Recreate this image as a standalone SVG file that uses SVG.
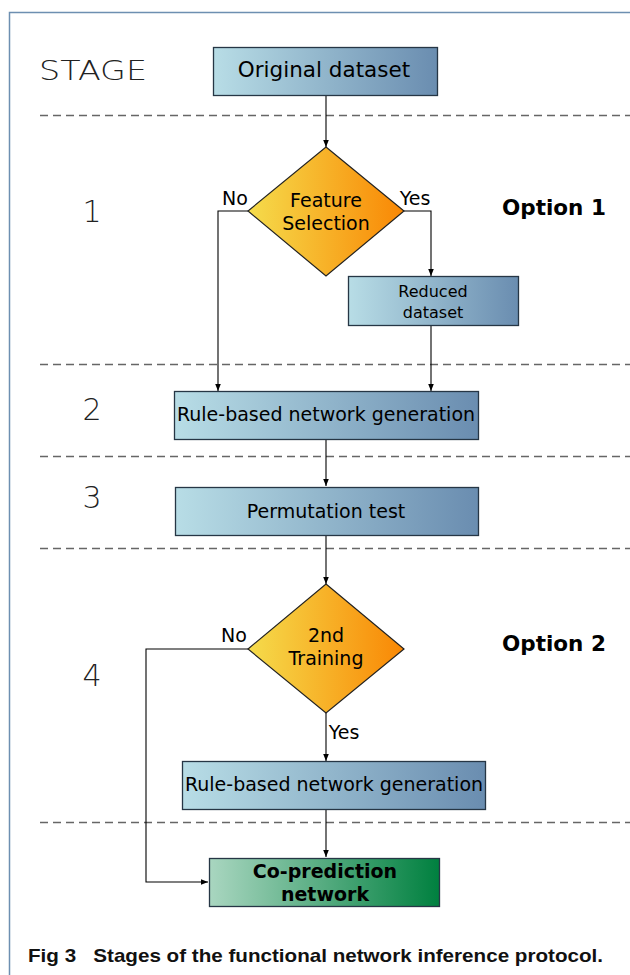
<svg xmlns="http://www.w3.org/2000/svg" width="630" height="975" viewBox="0 0 630 975">
<defs>
<linearGradient id="gBlue" x1="0" y1="0" x2="1" y2="0">
<stop offset="0" stop-color="#b8dde6"/>
<stop offset="1" stop-color="#6a8db0"/>
</linearGradient>
<linearGradient id="gOrange" x1="0" y1="0" x2="1" y2="0">
<stop offset="0" stop-color="#f5dc4c"/>
<stop offset="1" stop-color="#f98704"/>
</linearGradient>
<linearGradient id="gGreen" x1="0" y1="0" x2="1" y2="0">
<stop offset="0" stop-color="#a9d6c0"/>
<stop offset="1" stop-color="#00803f"/>
</linearGradient>
<marker id="arr" viewBox="0 0 10 10" refX="10" refY="5" markerWidth="7" markerHeight="7" markerUnits="userSpaceOnUse" orient="auto">
<path d="M0,1 L10,5 L0,9 z" fill="#000"/>
</marker>
<style>
.box{fill:url(#gBlue);stroke:#263645;stroke-width:1.3}
.dia{fill:url(#gOrange);stroke:#222;stroke-width:1.2}
.t{font-family:"DejaVu Sans",sans-serif;fill:#000;text-anchor:middle}
.stage{font-family:"DejaVu Sans",sans-serif;font-weight:200;font-size:30px;fill:#222}
.dash{stroke:#666;stroke-width:1.3;stroke-dasharray:8,5;fill:none}
.con{stroke:#000;stroke-width:1.1;fill:none}
.opt{font-family:"DejaVu Sans",sans-serif;font-weight:bold;font-size:21.5px;fill:#000}
</style>
</defs>
<rect width="630" height="975" fill="#fff"/>
<path d="M9.5,975 V12.5 H630" fill="none" stroke="#6d8fb1" stroke-width="1.5"/>

<g id="dashes">
<line class="dash" x1="40" y1="115.5" x2="630" y2="115.5"/>
<line class="dash" x1="40" y1="364.5" x2="630" y2="364.5"/>
<line class="dash" x1="40" y1="456.5" x2="630" y2="456.5"/>
<line class="dash" x1="40" y1="548.5" x2="630" y2="548.5"/>
<line class="dash" x1="40" y1="822.5" x2="630" y2="822.5"/>
</g>

<g id="stages">
<text class="stage" x="39" y="80" style="font-size:26px" textLength="108" lengthAdjust="spacingAndGlyphs">STAGE</text>
<text class="stage" x="92" y="222" text-anchor="middle">1</text>
<text class="stage" x="92" y="420" text-anchor="middle">2</text>
<text class="stage" x="92" y="508" text-anchor="middle">3</text>
<text class="stage" x="92" y="686" text-anchor="middle">4</text>
</g>

<g id="options">
<text class="opt" x="502" y="215">Option 1</text>
<text class="opt" x="502" y="651">Option 2</text>
</g>

<g id="connectors">
<line class="con" x1="326" y1="95" x2="326" y2="147" marker-end="url(#arr)"/>
<polyline class="con" points="248,211 218,211 218,391" marker-end="url(#arr)"/>
<polyline class="con" points="404,211 431,211 431,276" marker-end="url(#arr)"/>
<line class="con" x1="431" y1="325" x2="431" y2="391" marker-end="url(#arr)"/>
<line class="con" x1="326" y1="440" x2="326" y2="486" marker-end="url(#arr)"/>
<line class="con" x1="326" y1="535" x2="326" y2="584" marker-end="url(#arr)"/>
<polyline class="con" points="248,649 146,649 146,882 208,882" marker-end="url(#arr)"/>
<line class="con" x1="326" y1="713" x2="326" y2="761" marker-end="url(#arr)"/>
<line class="con" x1="326" y1="810" x2="326" y2="857" marker-end="url(#arr)"/>
<text class="t" x="235" y="205" font-size="19">No</text>
<text class="t" x="415" y="205" font-size="19">Yes</text>
<text class="t" x="234" y="642" font-size="19">No</text>
<text class="t" x="344" y="739" font-size="19">Yes</text>
</g>

<g id="original">
<rect class="box" x="213.5" y="47.5" width="224" height="48"/>
<text class="t" x="324" y="77" font-size="21.5">Original dataset</text>
</g>

<g id="feature">
<polygon class="dia" points="326,147 404,211 326,276 248,211"/>
<text class="t" x="326" y="207" font-size="19">Feature</text>
<text class="t" x="326" y="230" font-size="19">Selection</text>
</g>

<g id="reduced">
<rect class="box" x="348.5" y="276.5" width="170" height="49"/>
<text class="t" x="433" y="297" font-size="16">Reduced</text>
<text class="t" x="433" y="318" font-size="16">dataset</text>
</g>

<g id="rule1">
<rect class="box" x="174.5" y="391.5" width="304" height="48"/>
<text class="t" x="326" y="421" font-size="19">Rule-based network generation</text>
</g>

<g id="perm">
<rect class="box" x="175.5" y="487.5" width="303" height="48"/>
<text class="t" x="326" y="518" font-size="19">Permutation test</text>
</g>

<g id="training">
<polygon class="dia" points="326,584 404,649 326,713 248,649"/>
<text class="t" x="326" y="642" font-size="19">2nd</text>
<text class="t" x="326" y="665" font-size="19">Training</text>
</g>

<g id="rule2">
<rect class="box" x="182.5" y="761.5" width="303" height="48"/>
<text class="t" x="334" y="791" font-size="19">Rule-based network generation</text>
</g>

<g id="coprediction">
<rect x="209.5" y="858.5" width="230" height="48" fill="url(#gGreen)" stroke="#263645" stroke-width="1.3"/>
<text class="t" x="325" y="878" font-size="19" font-weight="bold">Co-prediction</text>
<text class="t" x="325" y="901" font-size="19" font-weight="bold">network</text>
</g>

<text x="28" y="962" font-family="'Liberation Sans',sans-serif" font-weight="bold" font-size="19" fill="#111" textLength="575" lengthAdjust="spacingAndGlyphs" xml:space="preserve">Fig 3   Stages of the functional network inference protocol.</text>
</svg>
